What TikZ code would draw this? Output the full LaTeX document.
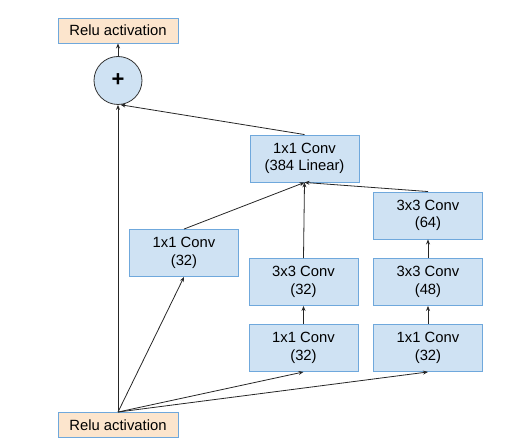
\documentclass[tikz,border=0pt]{standalone}
\usepackage{fontspec}
\setmainfont{Liberation Sans}
\usetikzlibrary{arrows.meta}
\definecolor{boxblue}{HTML}{CFE2F3}
\definecolor{edgeblue}{HTML}{6FA8DC}
\definecolor{boxorange}{HTML}{FCE5CD}
\begin{document}
\begin{tikzpicture}[x=1pt,y=-1pt,
  conv/.style={draw=edgeblue,fill=boxblue,line width=0.9pt,minimum width=109pt,minimum height=47pt,inner sep=0pt,align=center,font=\fontsize{14.8}{17.6}\selectfont},
  relu/.style={draw=edgeblue,fill=boxorange,line width=0.9pt,minimum width=120pt,minimum height=25pt,inner sep=0pt,font=\fontsize{14.8}{17.6}\selectfont},
  sumnode/.style={circle,draw=black!80,fill=boxblue,line width=0.8pt,minimum size=48pt,inner sep=0pt,font=\fontsize{22}{22}\selectfont\bfseries},
  arr/.style={-{Stealth[length=5pt,width=4pt]},line width=0.8pt,black!85}]
\useasboundingbox (0,0) rectangle (515,441);
\node[relu] (top) at (118,30.5) {Relu activation};
\node[sumnode] (sum) at (118,80.5) {+};
\node[conv] (lin) at (304.5,158.5) {1x1 Conv\\(384 Linear)};
\node[conv] (c64) at (428,215.5) {3x3 Conv\\(64)};
\node[conv] (l32) at (184,253) {1x1 Conv\\(32)};
\node[conv] (m32) at (303.5,282) {3x3 Conv\\(32)};
\node[conv] (c48) at (428,282) {3x3 Conv\\(48)};
\node[conv] (b1) at (303.5,348) {1x1 Conv\\(32)};
\node[conv] (b2) at (428,348) {1x1 Conv\\(32)};
\node[relu] (bot) at (118,425) {Relu activation};
\draw[arr] (bot.north) -- (sum.south);
\draw[arr] (bot.north) -- (l32.south);
\draw[arr] (bot.north) -- (b1.south);
\draw[arr] (bot.north) -- (b2.south);
\draw[arr] (b1.north) -- (m32.south);
\draw[arr] (b2.north) -- (c48.south);
\draw[arr] (c48.north) -- (c64.south);
\draw[arr] (l32.north) -- (lin.south);
\draw[arr] (m32.north) -- (lin.south);
\draw[arr] (c64.north) -- (lin.south);
\draw[arr] (lin.north) -- (sum.-84);
\draw[arr] (sum.north) -- (top.south);
\end{tikzpicture}
\end{document}
